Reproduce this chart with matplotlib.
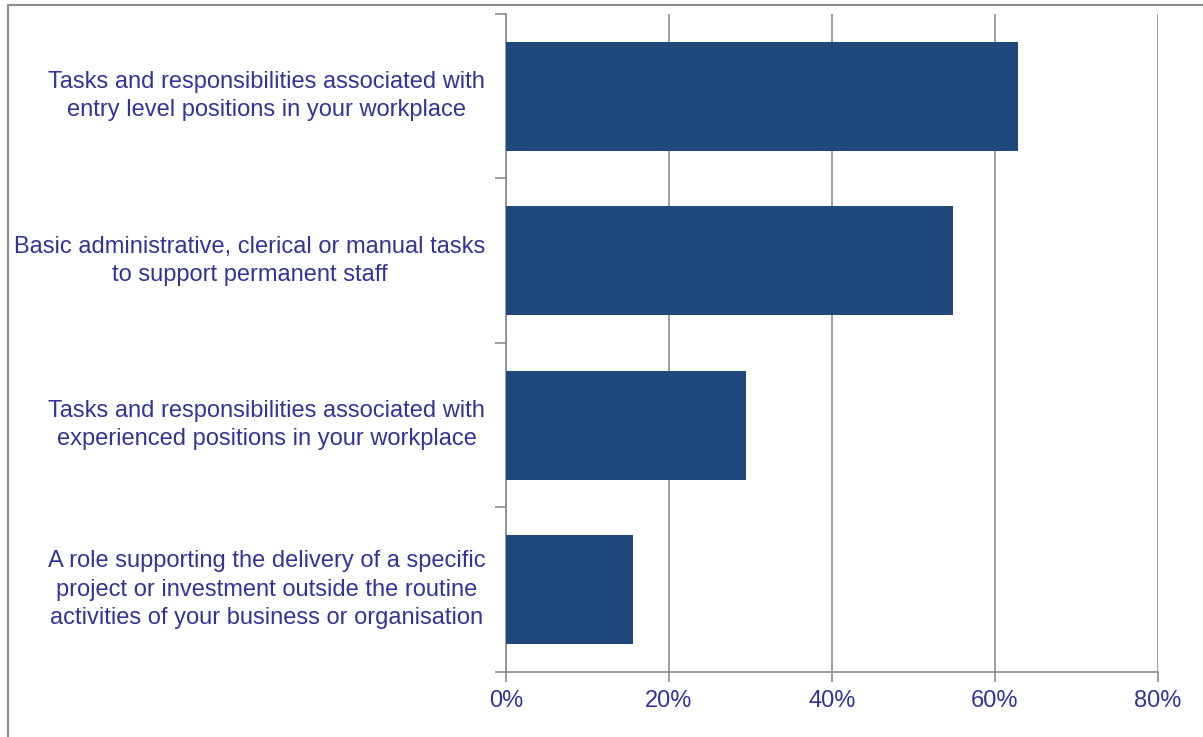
import numpy as np
import matplotlib.pyplot as plt
from matplotlib.lines import Line2D

plt.rcParams['font.family'] = ['Liberation Sans', 'DejaVu Sans']

# Share of respondents reporting each type of task
categories = [
    "Tasks and responsibilities associated with\nentry level positions in your workplace",
    "Basic administrative, clerical or manual tasks\nto support permanent staff",
    "Tasks and responsibilities associated with\nexperienced positions in your workplace",
    "A role supporting the delivery of a specific\nproject or investment outside the routine\nactivities of your business or organisation",
]
values = [62.8, 54.9, 29.5, 15.6]
xticks = [0, 20, 40, 60, 80]
xtick_labels = ["0%", "20%", "40%", "60%", "80%"]
title = ("Figure 6: Tasks undertaken by the individual on their most recent "
         "work placement")

bar_col = '#1F497D'
txt_col = '#333399'
line_col = '#8C8C8C'

W, H = 1203, 737
fig = plt.figure(figsize=(W / 100, H / 100), dpi=100)
ax = fig.add_axes([506 / W, 1 - 672 / H, (1158 - 506) / W, (672 - 14) / H])

y = np.arange(len(categories))
ax.barh(y, values, height=0.665, color=bar_col, zorder=3)
ax.set_ylim(len(categories) - 0.5, -0.5)
ax.set_xlim(0, 80)

ax.set_xticks(xticks)
ax.set_xticklabels(xtick_labels, color=txt_col, fontsize=17)
ax.set_yticks(y)
ax.set_yticklabels(categories, color=txt_col, fontsize=17, ha='right',
                   va='center', multialignment='center', linespacing=1.38)
ax.tick_params(axis='y', length=0, pad=15)
ax.tick_params(axis='x', length=7, width=1.2, color=line_col, pad=6)

# category separators on the value axis
ax.set_yticks(np.arange(-0.5, len(categories)), minor=True)
ax.tick_params(axis='y', which='minor', length=8, width=1.2, color=line_col)

ax.grid(axis='x', color=line_col, lw=1.2, zorder=0)
for s in ['top', 'right']:
    ax.spines[s].set_visible(False)
for s in ['left', 'bottom']:
    ax.spines[s].set_color(line_col)
    ax.spines[s].set_linewidth(1.2)

# chart area frame
fig.add_artist(Line2D([8 / W, 1], [1 - 5 / H, 1 - 5 / H], color=line_col,
                      lw=1.5, transform=fig.transFigure))
fig.add_artist(Line2D([8 / W, 8 / W], [0, 1 - 5 / H], color=line_col,
                      lw=1.5, transform=fig.transFigure))

fig.text(10 / W, 1 + 10 / H, title, fontsize=15, fontweight='bold',
         color='black', ha='left', va='baseline')

fig.savefig('out.png', dpi=100)
